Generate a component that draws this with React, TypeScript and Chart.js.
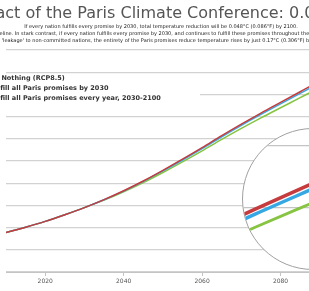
import React, { useEffect, useRef } from "react";
import { Chart, registerables } from "chart.js";

Chart.register(...registerables);

// ---- data ----
const years = [2010, 2015, 2020, 2025, 2030, 2035, 2040, 2045, 2050, 2055, 2060, 2065, 2070, 2075, 2080, 2085, 2090, 2095, 2100];
const doNothing = [0.89, 1.01, 1.14, 1.29, 1.45, 1.63, 1.83, 2.05, 2.29, 2.54, 2.8, 3.07, 3.33, 3.58, 3.82, 4.06, 4.3, 4.53, 4.76];
const paris2030 = [0.89, 1.01, 1.14, 1.29, 1.45, 1.627, 1.823, 2.04, 2.276, 2.523, 2.779, 3.046, 3.303, 3.549, 3.786, 4.022, 4.259, 4.485, 4.712];
const parisEveryYear = [0.89, 1.01, 1.14, 1.29, 1.45, 1.618, 1.806, 2.014, 2.241, 2.479, 2.727, 2.985, 3.233, 3.471, 3.699, 3.926, 4.154, 4.372, 4.59];

const xRange = [2010, 2100];
const yRange = [0, 5];
const yStep = 0.5;
const xStep = 20;

// magnified inset window
const insetXRange = [2089, 2100];
const insetYRange = [3.815, 4.944];
const insetGrid = [4.31, 4.81];

const TITLE = "Impact of the Paris Climate Conference: 0.048°C";
const SUBTITLE = [
  "If every nation fulfills every promise by 2030, total temperature reduction will be 0.048°C (0.086°F) by 2100.",
  "compared to baseline. In stark contrast, if every nation fulfills every promise by 2030, and continues to fulfill these promises throughout the century, temperature",
  "no 'leakage' to non-committed nations, the entirety of the Paris promises reduce temperature rises by just 0.17°C (0.306°F) by 2100.",
];
const LEGEND = [
  "Do Nothing (RCP8.5)",
  "Fulfill all Paris promises by 2030",
  "Fulfill all Paris promises every year, 2030-2100",
];

const RED = "#c63b3d";
const BLUE = "#35a7e2";
const GREEN = "#86c441";
const FONT = "'DejaVu Sans', 'Open Sans', sans-serif";

const pts = (vals: number[]) => years.map((y, i) => ({ x: y, y: vals[i] }));

function makeDatasets(widths: number[]) {
  return [
    { label: LEGEND[0], data: pts(doNothing), borderColor: RED, borderWidth: widths[0] },
    { label: LEGEND[1], data: pts(paris2030), borderColor: BLUE, borderWidth: widths[1] },
    { label: LEGEND[2], data: pts(parisEveryYear), borderColor: GREEN, borderWidth: widths[2] },
  ].map((d) => ({ ...d, fill: false, pointRadius: 0, cubicInterpolationMode: "monotone" as const }));
}

export default function App() {
  const mainRef = useRef<HTMLCanvasElement | null>(null);
  const insetRef = useRef<HTMLCanvasElement | null>(null);

  useEffect(() => {
    const main = new Chart(mainRef.current as HTMLCanvasElement, {
      type: "line",
      data: { datasets: makeDatasets([1.5, 1.5, 1.5]) as any },
      options: {
        responsive: false,
        animation: false,
        devicePixelRatio: 1,
        layout: { padding: { left: 6, right: 41, top: 50, bottom: 0 } },
        plugins: { legend: { display: false }, tooltip: { enabled: false }, title: { display: false } },
        scales: {
          x: {
            type: "linear",
            min: xRange[0],
            max: xRange[1],
            afterFit: (s: any) => {
              s.height = 19;
            },
            grid: { drawOnChartArea: false, drawTicks: true, tickLength: 4, color: "#c4c4c4" },
            border: { color: "#c4c4c4" },
            ticks: {
              stepSize: xStep,
              includeBounds: false,
              color: "#555",
              padding: 2,
              font: { size: 6, family: FONT },
              callback: (v: any) => String(v),
            },
          },
          y: {
            min: yRange[0],
            max: yRange[1],
            afterFit: (s: any) => {
              s.width = 0;
            },
            ticks: { display: false, stepSize: yStep },
            grid: { color: "#d2d2d2", drawTicks: false, lineWidth: 1.2 },
            border: { display: false },
          },
        },
      } as any,
    });

    const inset = new Chart(insetRef.current as HTMLCanvasElement, {
      type: "line",
      data: { datasets: makeDatasets([3.5, 3.5, 2.8]) as any },
      options: {
        responsive: false,
        animation: false,
        devicePixelRatio: 1,
        layout: { padding: 0 },
        plugins: { legend: { display: false }, tooltip: { enabled: false } },
        scales: {
          x: { type: "linear", min: insetXRange[0], max: insetXRange[1], display: false },
          y: {
            min: insetYRange[0],
            max: insetYRange[1],
            afterFit: (s: any) => {
              s.width = 0;
            },
            afterBuildTicks: (axis: any) => {
              axis.ticks = insetGrid.map((v) => ({ value: v }));
            },
            ticks: { display: false },
            grid: { color: "#c4c4c4", drawTicks: false, lineWidth: 1.2 },
            border: { display: false },
          },
        },
      } as any,
    });

    return () => {
      main.destroy();
      inset.destroy();
    };
  }, []);

  return (
    <div
      style={{
        position: "absolute",
        left: 0,
        top: 0,
        width: 309,
        height: 291,
        overflow: "hidden",
        background: "#fff",
        fontFamily: FONT,
      }}
    >
      <canvas ref={mainRef} width={400} height={291} style={{ position: "absolute", left: 0, top: 0, width: 400, height: 291 }} />
      <div
        style={{
          position: "absolute",
          left: -35,
          top: 4,
          fontSize: 16,
          lineHeight: "18px",
          color: "#555",
          whiteSpace: "nowrap",
        }}
      >
        {TITLE}
      </div>
      <div
        style={{
          position: "absolute",
          left: -89,
          top: 22.5,
          width: 500,
          textAlign: "center",
          fontSize: 5,
          lineHeight: "7px",
          color: "#1a1a1a",
          whiteSpace: "nowrap",
        }}
      >
        {SUBTITLE.map((s, i) => (
          <div key={i}>{s}</div>
        ))}
      </div>
      <div
        style={{
          position: "absolute",
          left: -40,
          top: 74,
          width: 240,
          height: 31,
          background: "#fff",
          fontSize: 6.5,
          fontWeight: "bold",
          color: "#333",
        }}
      >
        <div style={{ position: "relative", top: -1 }}>
          {LEGEND.map((t, i) => (
            <div key={i} style={{ height: 10, lineHeight: "10px", whiteSpace: "nowrap", display: "flex", alignItems: "center" }}>
              <span style={{ display: "inline-block", width: 12, height: 2, background: [RED, BLUE, GREEN][i], marginLeft: 9, marginRight: 8.3 }} />
              <span>{t}</span>
            </div>
          ))}
        </div>
      </div>
      <div
        style={{
          position: "absolute",
          left: 242,
          top: 128,
          width: 142,
          height: 142,
          boxSizing: "border-box",
          border: "1px solid #a0a0a0",
          borderRadius: "50%",
          overflow: "hidden",
          background: "#fff",
        }}
      >
        <canvas ref={insetRef} width={140} height={140} style={{ display: "block", width: 140, height: 140 }} />
      </div>
    </div>
  );
}
